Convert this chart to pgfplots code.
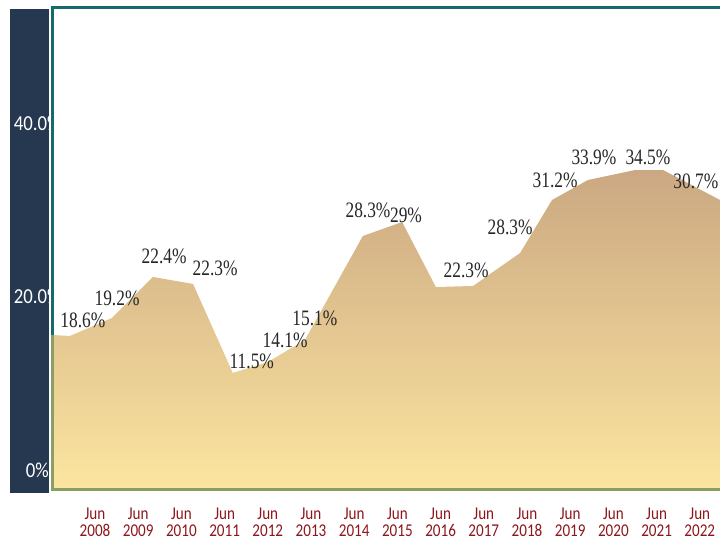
\documentclass[border=0pt]{standalone}
\usepackage{fontspec}
\setmainfont{Liberation Serif}
\newfontfamily\lblfont[FakeStretch=0.79]{Liberation Serif}
\newfontfamily\calibri[FakeStretch=0.84]{Carlito}
\newfontfamily\calibriy[FakeStretch=0.88]{Carlito}
\usepackage{pgfplots}
\pgfplotsset{compat=1.18}
\definecolor{navy}{RGB}{37,56,80}
\definecolor{tealc}{RGB}{22,106,110}
\definecolor{olivec}{RGB}{138,160,98}
\definecolor{xred}{RGB}{140,22,28}
\definecolor{areatop}{RGB}{203,168,130}
\definecolor{areabot}{RGB}{252,229,160}
\definecolor{lab}{RGB}{38,38,38}
\begin{document}
\begin{tikzpicture}
\fill[navy] (7.5pt,34.5pt) rectangle (37pt,397.5pt);
\begin{axis}[
  at={(39.375pt,37.125pt)}, anchor=south west,
  scale only axis, width=500.625pt, height=361.125pt,
  xmin=-0.984, xmax=14.468, ymin=-2.25, ymax=53.23,
  axis line style={draw=none},
  clip=false,
  xtick={0,...,14},
  xticklabels={Jun\\2008,Jun\\2009,Jun\\2010,Jun\\2011,Jun\\2012,Jun\\2013,Jun\\2014,Jun\\2015,Jun\\2016,Jun\\2017,Jun\\2018,Jun\\2019,Jun\\2020,Jun\\2021,Jun\\2022},
  xticklabel style={font=\calibri\fontsize{13.5}{13}\selectfont, text=xred, align=center, yshift=-10pt},
  ytick={0,20,40},
  yticklabels={0\%,20.0\%,40.0\%},
  yticklabel style={font=\calibriy\fontsize{16}{16}\selectfont, text=white, anchor=center, xshift=-11.4pt},
  major tick length=0pt,
]
\addplot[draw=none, top color=areatop, bottom color=areabot] coordinates {
  (-0.984,-2.25) (-0.984,15.55) (-0.58,15.44) (0.39,17.51) (1.34,22.24) (2.27,21.43)
  (3.19,11.18) (4.00,12.44) (4.86,14.98) (6.20,26.96) (7.11,28.57) (7.89,21.08)
  (8.75,21.20) (9.84,25.0) (10.58,31.11) (11.41,33.41) (12.50,34.56) (13.15,34.56)
  (14.468,31.11) (14.468,-2.25)
};
\addplot[only marks, mark=*, mark size=0pt, mark options={draw=none,fill=none},
  nodes near coords, point meta=explicit symbolic, nodes near coords align={center},
  every node near coord/.append style={anchor=center, font=\lblfont\fontsize{16.5}{18}\selectfont, text=lab, inner sep=0pt}]
  coordinates {
  (-0.28,17.28)[18.6\%] (0.51,19.82)[19.2\%] (1.60,24.65)[22.4\%] (2.78,23.27)[22.3\%]
  (3.63,12.56)[11.5\%] (4.40,14.98)[14.1\%] (5.09,17.51)[15.1\%] (6.32,29.95)[28.3\%]
  (7.20,29.38)[29\%] (8.59,23.04)[22.3\%] (9.61,28.0)[28.3\%] (10.65,33.41)[31.2\%]
  (11.55,36.06)[33.9\%] (12.80,36.06)[34.5\%] (13.91,33.29)[30.7\%]
};
\end{axis}
\fill[white] (37.1pt,171.75pt) rectangle (46pt,325.5pt);
\draw[tealc, line width=2.25pt] (39.375pt,37.125pt) -- (39.375pt,398.25pt);
\draw[olivec, line width=2.25pt] (39.375pt,37.125pt) -- (39.375pt,153pt);
\draw[tealc, line width=2.25pt] (38.25pt,398.25pt) -- (540pt,398.25pt);
\draw[olivec, line width=2.25pt] (38.25pt,37.125pt) -- (540pt,37.125pt);
\pgfresetboundingbox
\useasboundingbox (0,0) rectangle (540pt,404.25pt);
\end{tikzpicture}
\end{document}
